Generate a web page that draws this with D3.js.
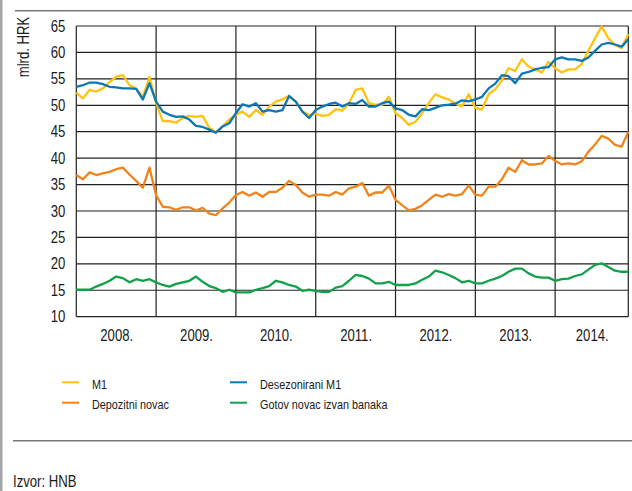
<!DOCTYPE html>
<html><head><meta charset="utf-8">
<script src="https://cdn.jsdelivr.net/npm/d3@7"></script>
<style>
html,body{margin:0;padding:0;background:#fff;}
svg{display:block;}
text{font-family:"Liberation Sans",Arial,sans-serif;fill:#1a1a1a;}
</style></head>
<body><svg id="c" width="632" height="491"></svg>
<script>
const yearLabels = ["2008.","2009.","2010.","2011.","2012.","2013.","2014."];
const yTicks = [10,15,20,25,30,35,40,45,50,55,60,65];
const seriesNames = ["M1","Desezonirani M1","Depozitni novac","Gotov novac izvan banaka"];
const m1 = [52.4,51.3,52.9,52.6,53.2,54.4,55.4,55.7,53.8,53.2,51.6,55.4,
 50.4,47.0,47.0,46.7,47.6,48.0,47.8,48.0,45.7,44.9,46.0,47.3,
 48.2,48.8,47.8,49.1,48.2,49.75,50.7,51.1,51.8,50.7,48.8,48.2,
 48.4,48.0,48.2,49.25,49.0,50.4,52.9,53.2,50.4,50.1,50.1,51.6,
 48.5,47.6,46.3,46.9,48.5,50.4,52.1,51.5,51.1,50.3,49.8,52.1,
 49.5,49.2,52.1,53.0,54.75,57.0,56.5,58.7,57.3,56.8,56.2,58.2,
 57.0,56.2,56.8,56.8,57.8,60.3,62.7,64.9,62.7,61.4,60.8,63.5];
const m1sa = [53.5,53.8,54.3,54.3,54.0,53.5,53.4,53.2,53.2,53.1,51.1,54.2,
 50.7,48.8,48.2,47.8,47.9,47.3,46.1,45.9,45.4,44.8,46.0,46.6,
 48.5,50.2,49.75,50.4,48.8,49.1,48.8,49.1,51.75,50.7,48.8,47.6,
 49.1,49.75,50.25,50.5,49.75,50.4,50.25,51.0,49.75,49.75,50.4,50.7,
 49.4,49.1,48.2,47.9,49.25,49.1,49.5,50.0,50.1,50.3,50.95,50.75,
 51.1,51.6,53.2,54.1,55.7,55.5,54.2,56.0,56.3,56.8,57.1,57.2,
 58.7,59.05,58.7,58.7,58.4,59.05,60.3,61.5,61.8,61.5,61.1,62.5];
const deposits = [36.8,36.0,37.3,36.8,37.1,37.4,37.9,38.2,36.9,35.7,34.4,38.2,
 33.0,30.8,30.7,30.2,30.7,30.7,30.1,30.6,29.5,29.2,30.5,31.6,
 33.0,33.6,32.9,33.5,32.7,33.6,33.6,34.4,35.7,34.9,33.5,32.7,
 33.1,33.1,32.9,33.6,33.1,34.3,34.6,35.3,32.9,33.5,33.5,34.8,
 32.1,31.1,30.1,30.4,31.1,32.1,33.1,32.7,33.2,32.9,33.2,34.8,
 33.1,32.9,34.6,34.6,36.0,38.2,37.4,39.6,38.8,38.8,39.0,40.4,
 39.5,38.8,39.0,38.8,39.4,41.2,42.6,44.2,43.7,42.5,42.2,45.0];
const currency = [15.1,15.1,15.1,15.7,16.2,16.8,17.6,17.3,16.5,17.1,16.8,17.1,
 16.5,16.0,15.7,16.2,16.5,16.8,17.6,16.6,15.8,15.4,14.7,15.1,
 14.6,14.6,14.6,15.1,15.4,15.8,16.8,16.5,16.0,15.7,14.9,15.1,
 14.9,14.7,14.7,15.5,15.8,16.8,17.9,17.7,17.2,16.3,16.3,16.6,
 16.0,16.0,16.0,16.3,17.0,17.6,18.7,18.4,17.9,17.3,16.5,16.8,
 16.3,16.3,16.8,17.2,17.7,18.5,19.1,19.1,18.2,17.6,17.4,17.4,
 16.8,17.1,17.2,17.7,18.0,18.9,19.8,20.1,19.4,18.7,18.5,18.5];

const colors = {m1:"#ffc20e", m1sa:"#0a78b8", dep:"#f0841a", cur:"#13a04b"};
const svg = d3.select("#c");
const L = 76.3, R = 628.3, T = 26, B = 316.7;
const n = m1.length;
const x = d3.scaleLinear().domain([0, n-1]).range([L, R]);
const y = d3.scaleLinear().domain([10, 65]).range([B, T]);

// condense text (narrow face look)
function narrow(sel){
  sel.each(function(){
    const w = this.getComputedTextLength();
    d3.select(this).attr("textLength", w*0.82).attr("lengthAdjust","spacingAndGlyphs");
  });
}

// frame decorations
svg.append("rect").attr("x",0).attr("y",0).attr("width",2.5).attr("height",491).attr("fill","#a6a6a6");
svg.append("line").attr("x1",15).attr("x2",632).attr("y1",10.7).attr("y2",10.7).attr("stroke","#777").attr("stroke-width",1.5);
svg.append("line").attr("x1",13).attr("x2",632).attr("y1",440.7).attr("y2",440.7).attr("stroke","#777").attr("stroke-width",1.5);

// grid
const g = svg.append("g");
g.selectAll(".hg").data(yTicks).enter().append("line")
 .attr("x1",L).attr("x2",R).attr("y1",d=>y(d)).attr("y2",d=>y(d))
 .attr("stroke","#222").attr("stroke-width",1.2);
const vLines = [0];
for (let k=12;k<n;k+=12) vLines.push(k);
vLines.push(n-1);
g.selectAll(".vg").data(vLines).enter().append("line")
 .attr("x1",d=>x(d)).attr("x2",d=>x(d)).attr("y1",T).attr("y2",B)
 .attr("stroke","#222").attr("stroke-width",1.2);

// y axis
const ya = svg.append("g").attr("transform",`translate(${L-11},0)`)
 .call(d3.axisLeft(y).tickValues(yTicks).tickSize(0).tickPadding(0));
ya.select(".domain").remove();
ya.selectAll("text").style("font-size","16px").attr("fill","#1a1a1a")
 .style("font-family",'"Liberation Sans",Arial,sans-serif').call(narrow);

// x axis labels (centred in year bands)
const mids = yearLabels.map((d,i)=> (i*12 + Math.min(i*12+12, n-1))/2);
const xa = svg.append("g").attr("transform",`translate(0,${B+12.5})`)
 .call(d3.axisBottom(x).tickValues(mids).tickFormat((d,i)=>yearLabels[i]).tickSize(0).tickPadding(0));
xa.select(".domain").remove();
xa.selectAll("text").style("font-size","16px").attr("fill","#1a1a1a").attr("dy","0.71em")
 .style("font-family",'"Liberation Sans",Arial,sans-serif').call(narrow);

// y title
svg.append("text").attr("transform","translate(29,47) rotate(-90)").attr("text-anchor","middle")
 .style("font-size","16px").text("mlrd. HRK").call(narrow);

// lines
const line = d3.line().x((d,i)=>x(i)).y(d=>y(d));
[[currency,colors.cur],[deposits,colors.dep],[m1,colors.m1],[m1sa,colors.m1sa]].forEach(([arr,c])=>{
  svg.append("path").datum(arr).attr("d",line).attr("fill","none")
   .attr("stroke",c).attr("stroke-width",2.3).attr("stroke-linejoin","round");
});

// legend
const leg = [
 {name:seriesNames[0], c:colors.m1, lx:62, ly:382.3},
 {name:seriesNames[1], c:colors.m1sa, lx:230, ly:382.3},
 {name:seriesNames[2], c:colors.dep, lx:62, ly:402.7},
 {name:seriesNames[3], c:colors.cur, lx:230, ly:402.7}
];
leg.forEach(d=>{
  svg.append("line").attr("x1",d.lx).attr("x2",d.lx+17).attr("y1",d.ly).attr("y2",d.ly)
   .attr("stroke",d.c).attr("stroke-width",2);
  svg.append("text").attr("x",d.lx+30).attr("y",d.ly).attr("dy","0.5em")
   .style("font-size","13.2px").text(d.name).call(narrow);
});

svg.append("text").attr("x",13).attr("y",486.5).style("font-size","16px").text("Izvor: HNB").call(narrow);
</script></body></html>
